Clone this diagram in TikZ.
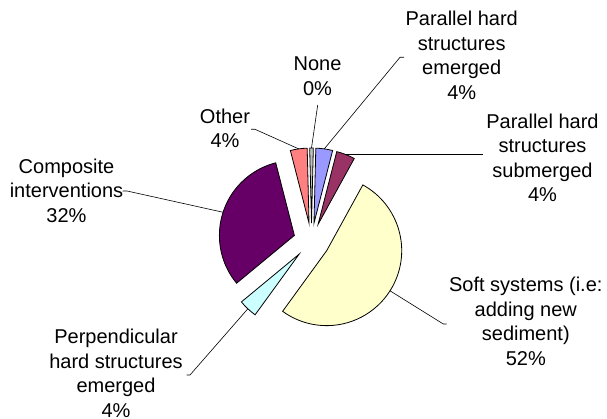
\documentclass[tikz,border=0pt]{standalone}
\usepackage{fontspec}
\setmainfont{Liberation Sans}
\definecolor{cblue}{HTML}{9999FF}
\definecolor{cmaroon}{HTML}{993366}
\definecolor{cyellow}{HTML}{FFFFCC}
\definecolor{ccyan}{HTML}{CCFFFF}
\definecolor{cpurple}{HTML}{660066}
\definecolor{csalmon}{HTML}{FF8080}
\definecolor{cnone}{HTML}{C0C0C0}
\newcommand\lbllines[1]{\begin{tabular}[t]{@{}c@{}}#1\end{tabular}}
\newcommand\pieslice[4]{%
  \pgfmathsetmacro\slM{90-(#2+#3)/2}%
  \pgfmathsetmacro\slA{90-#2}%
  \pgfmathsetmacro\slB{90-#3}%
  \path (C) ++(\slM:18) coordinate (#1tip);
  \path (#1tip) ++(\slM:75) coordinate (#1out);
  \filldraw[slice, fill=#4] (#1tip) -- ++(\slA:75) arc[start angle=\slA, end angle=\slB, radius=75] -- cycle;
}
\begin{document}
\begin{tikzpicture}[x=1pt,y=1pt,
  slice/.style={draw=black, line width=0.8pt, line join=miter},
  leader/.style={draw=black, line width=0.6pt},
  lbl/.style={inner sep=0pt, anchor=base, font=\fontsize{20}{24.5}\selectfont}]
\useasboundingbox (0,0) rectangle (607,419);
\coordinate (C) at (311.5,178);
% slices (clockwise angles from 12 o'clock)
\pieslice{blue}{1.4}{14.4}{cblue}
\pieslice{maroon}{14.4}{28.8}{cmaroon}
\pieslice{yellow}{28.8}{216}{cyellow}
\pieslice{cyan}{216}{230.4}{ccyan}
\pieslice{purple}{230.4}{345.6}{cpurple}
\pieslice{salmon}{345.6}{358.6}{csalmon}
\pieslice{none}{358.6}{361.4}{cnone}
% labels
\node[lbl] (lnone) at (317.5,348) {\lbllines{None\\0\%}};
\node[lbl] (lother) at (225,295.7) {\lbllines{Other\\4\%}};
\node[lbl] (lpem) at (461.7,393) {\lbllines{Parallel hard\\structures\\emerged\\4\%}};
\node[lbl] (lpsub) at (542.5,290.7) {\lbllines{Parallel hard\\structures\\submerged\\4\%}};
\node[lbl] (lcomp) at (66.5,245.7) {\lbllines{Composite\\interventions\\32\%}};
\node[lbl] (lsoft) at (525.8,127.3) {\lbllines{Soft systems (i.e:\\adding new\\sediment)\\52\%}};
\node[lbl] (lperp) at (116,75) {\lbllines{Perpendicular\\hard structures\\emerged\\4\%}};
% leader lines
\coordinate (pemA) at (400,361.7);
\coordinate (pemB) at (404,361.7);
\coordinate (psubB) at (483,264.5);
\coordinate (softA) at (443.3,95);
\coordinate (softB) at (446.7,95);
\coordinate (perpA) at (190,44);
\coordinate (perpB) at (186.7,44);
\coordinate (compA) at (127,228);
\coordinate (compB) at (122.5,228);
\coordinate (othA) at (255,289.7);
\coordinate (othB) at (251,289.7);
\coordinate (noneB) at (317.7,314);
\draw[leader] (blueout) -- (pemA) -- (pemB);
\draw[leader] (maroonout) -- (maroonout -| psubB);
\draw[leader] (yellowout) -- (softA) -- (softB);
\draw[leader] (cyanout) -- (perpA) -- (perpB);
\draw[leader] (purpleout) -- (compA) -- (compB);
\draw[leader] (salmonout) -- (othA) -- (othB);
\draw[leader] (noneout) -- (noneB);
\end{tikzpicture}
\end{document}
